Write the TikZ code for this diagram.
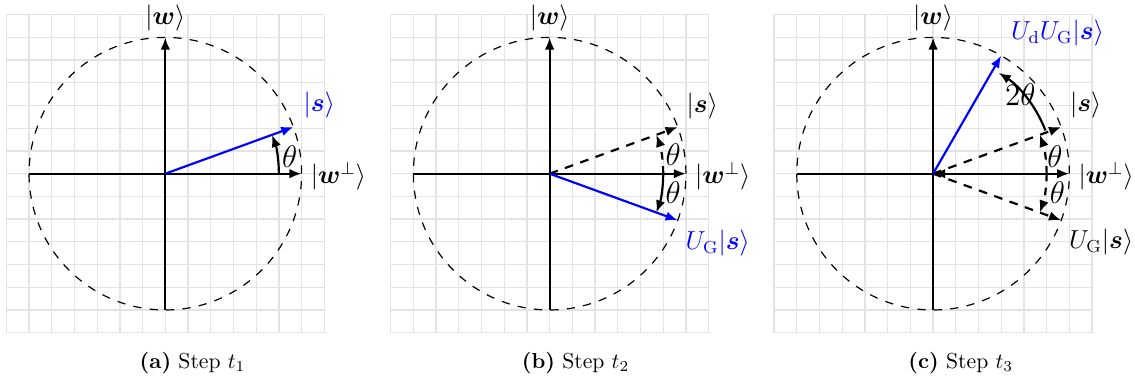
\documentclass[tikz,border=0pt]{standalone}
\usepackage{amsmath}
\usepackage{bm}
\usetikzlibrary{arrows.meta}
\tikzset{
  mytip/.tip={Latex[length=5.6pt,width=4.4pt]},
  gridline/.style={draw=gray!22,line width=0.6pt},
  unitcirc/.style={draw=black,line width=0.55pt,dash pattern=on 3.8pt off 3.8pt},
  axisline/.style={draw=black,line width=1pt,-mytip},
  bluevec/.style={draw=blue,line width=1pt,-mytip},
  dashvec/.style={draw=black,line width=1pt,dash pattern=on 4pt off 3.5pt,-mytip},
  angarc/.style={draw=black,line width=1pt,-mytip},
  dangarc/.style={draw=black,line width=1pt,dash pattern=on 3.5pt off 3pt,-mytip},
  lbl/.style={inner sep=0pt,anchor=center,font=\large},
  anglbl/.style={inner sep=0pt,anchor=center,font=\Large},
  captxt/.style={inner sep=0pt,anchor=base},
  pgrid/.pic={
    \foreach \i in {-3.5,-3,...,3.5}{
      \draw[gridline] (\i,-3.5) -- (\i,3.5);
      \draw[gridline] (-3.5,\i) -- (3.5,\i);
    }
  },
}
\begin{document}
\begin{tikzpicture}[x=0.736cm,y=0.736cm]
\useasboundingbox (-3.639,-4.563) rectangle (21.345,3.823);
% ---------- panel (a)
\begin{scope}
  \pic {pgrid};
  \coordinate (aO) at (0,0);
  \coordinate (aL) at (-3,0);
  \coordinate (aR) at (3,0);
  \coordinate (aB) at (0,-3);
  \coordinate (aT) at (0,3);
  \coordinate (aS) at (20:3);
  \coordinate (aA0) at (0:2.5);
  \draw[unitcirc] (aO) circle[radius=3];
  \draw[axisline] (aL) -- (aR);
  \draw[axisline] (aB) -- (aT);
  \draw[bluevec] (aO) -- (aS);
  \draw[angarc] (aA0) arc[start angle=0,end angle=20,radius=2.5];
  \node[lbl] (aw) at (0,3.43) {$|\bm{w}\rangle$};
  \node[lbl] (awp) at (3.81,-0.05) {$|\bm{w}^{\perp}\rangle$};
  \node[lbl,text=blue] (as) at (3.39,1.51) {$|\bm{s}\rangle$};
  \node[anglbl] (ath) at (2.74,0.38) {$\theta$};
  \node[captxt] (acap) at (0.6,-4.28) {\textbf{(a)}\ Step $t_1$};
\end{scope}
% ---------- panel (b)
\begin{scope}[xshift=8.46*0.736cm]
  \pic {pgrid};
  \coordinate (bO) at (0,0);
  \coordinate (bL) at (-3,0);
  \coordinate (bR) at (3,0);
  \coordinate (bB) at (0,-3);
  \coordinate (bT) at (0,3);
  \coordinate (bS) at (20:3);
  \coordinate (bG) at (-20:3);
  \coordinate (bA0) at (0:2.5);
  \draw[unitcirc] (bO) circle[radius=3];
  \draw[axisline] (bL) -- (bR);
  \draw[axisline] (bB) -- (bT);
  \draw[dashvec] (bO) -- (bS);
  \draw[bluevec] (bO) -- (bG);
  \draw[dangarc] (bA0) arc[start angle=0,end angle=20,radius=2.5];
  \draw[angarc] (bA0) arc[start angle=0,end angle=-20,radius=2.5];
  \node[lbl] (bw) at (0,3.43) {$|\bm{w}\rangle$};
  \node[lbl] (bwp) at (3.81,-0.05) {$|\bm{w}^{\perp}\rangle$};
  \node[lbl] (bs) at (3.36,1.48) {$|\bm{s}\rangle$};
  \node[lbl,text=blue] (bgs) at (3.70,-1.53) {$U_{\mathrm{G}}|\bm{s}\rangle$};
  \node[anglbl] (bth1) at (2.72,0.41) {$\theta$};
  \node[anglbl] (bth2) at (2.72,-0.42) {$\theta$};
  \node[captxt] (bcap) at (0.57,-4.28) {\textbf{(b)}\ Step $t_2$};
\end{scope}
% ---------- panel (c)
\begin{scope}[xshift=16.9*0.736cm]
  \pic {pgrid};
  \coordinate (cO) at (0,0);
  \coordinate (cL) at (-3,0);
  \coordinate (cR) at (3,0);
  \coordinate (cB) at (0,-3);
  \coordinate (cT) at (0,3);
  \coordinate (cS) at (20:3);
  \coordinate (cG) at (-20:3);
  \coordinate (cD) at (60:3);
  \coordinate (cA0) at (0:2.5);
  \coordinate (cA1) at (21:2.65);
  \coordinate (cK) at (0.3,0);
  \draw[unitcirc] (cO) circle[radius=3];
  \draw[axisline] (cL) -- (cR);
  \draw[axisline] (cB) -- (cT);
  \draw[axisline] (cK) -- (cO);
  \draw[dashvec] (cO) -- (cS);
  \draw[dashvec] (cO) -- (cG);
  \draw[bluevec] (cO) -- (cD);
  \draw[dangarc] (cA0) arc[start angle=0,end angle=20,radius=2.5];
  \draw[dangarc] (cA0) arc[start angle=0,end angle=-20,radius=2.5];
  \draw[angarc] (cA1) arc[start angle=21,end angle=57,radius=2.65];
  \node[lbl] (cw) at (0,3.43) {$|\bm{w}\rangle$};
  \node[lbl] (cwp) at (3.81,-0.05) {$|\bm{w}^{\perp}\rangle$};
  \node[lbl] (cs) at (3.36,1.51) {$|\bm{s}\rangle$};
  \node[lbl] (cgs) at (3.70,-1.50) {$U_{\mathrm{G}}|\bm{s}\rangle$};
  \node[lbl,text=blue] (cds) at (2.74,3.09) {$U_{\mathrm{d}}U_{\mathrm{G}}|\bm{s}\rangle$};
  \node[anglbl] (cth1) at (2.68,0.38) {$\theta$};
  \node[anglbl] (cth2) at (2.74,-0.42) {$\theta$};
  \node[anglbl] (c2th) at (1.92,1.73) {$2\theta$};
  \node[captxt] (ccap) at (0.61,-4.28) {\textbf{(c)}\ Step $t_3$};
\end{scope}
\end{tikzpicture}
\end{document}
